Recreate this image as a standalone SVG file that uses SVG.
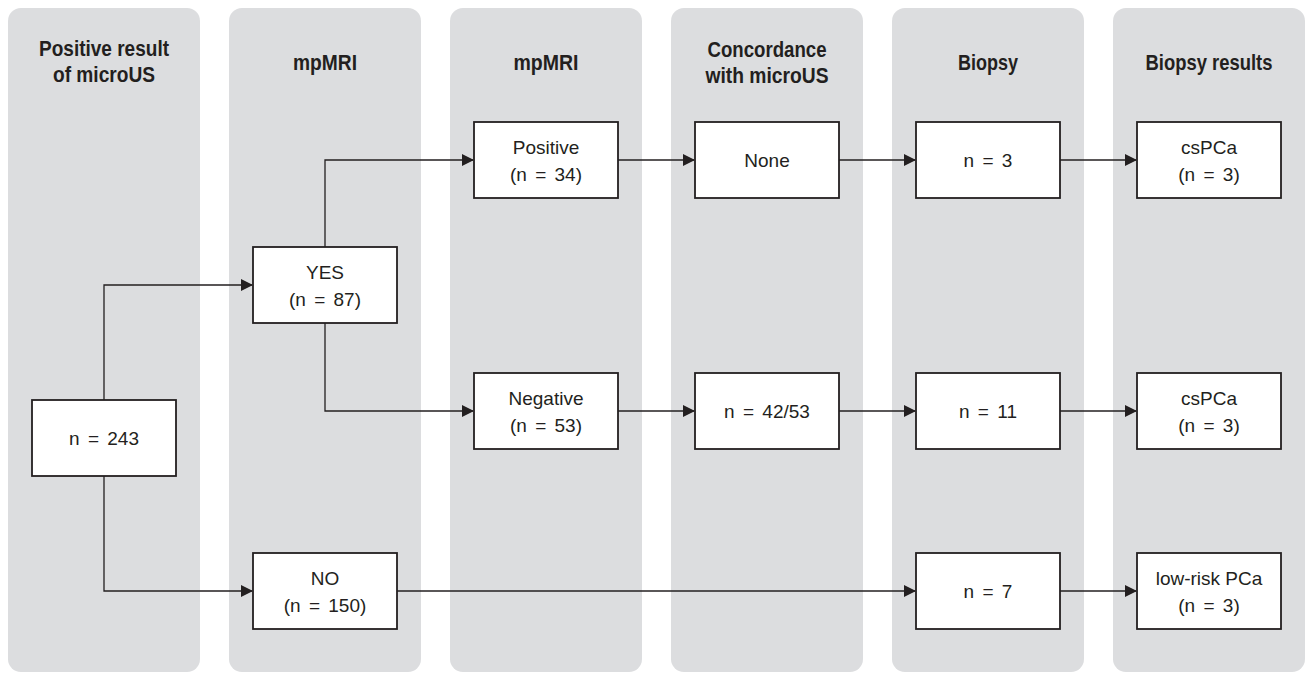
<svg xmlns="http://www.w3.org/2000/svg" width="1306" height="673" viewBox="0 0 1306 673">
<defs>
<style>
.col{fill:#dcdddf;}
.box{fill:#ffffff;stroke:#231f20;stroke-width:1.8;}
.hd{font-family:"Liberation Sans",Arial,sans-serif;font-weight:bold;font-size:22px;fill:#231f20;text-anchor:middle;}
.tx{font-family:"Liberation Sans",Arial,sans-serif;font-size:19px;fill:#231f20;text-anchor:middle;}
.eq{word-spacing:3px;}
.ln{fill:none;stroke:#231f20;stroke-width:1.3;}
</style>
<marker id="arr" viewBox="0 0 12 12" refX="11" refY="6" markerWidth="12" markerHeight="12" markerUnits="userSpaceOnUse" orient="auto">
<path d="M0,0 L12,6 L0,12 Z" fill="#231f20"/>
</marker>
</defs>
<g id="columns">
<rect class="col" x="8" y="8" width="192" height="664" rx="13"/>
<rect class="col" x="229" y="8" width="192" height="664" rx="13"/>
<rect class="col" x="450" y="8" width="192" height="664" rx="13"/>
<rect class="col" x="671" y="8" width="192" height="664" rx="13"/>
<rect class="col" x="892" y="8" width="192" height="664" rx="13"/>
<rect class="col" x="1113" y="8" width="192" height="664" rx="13"/>
</g>
<g id="headers">
<text class="hd" x="104" y="56" textLength="130" lengthAdjust="spacingAndGlyphs">Positive result</text>
<text class="hd" x="104" y="82" textLength="102" lengthAdjust="spacingAndGlyphs">of microUS</text>
<text class="hd" x="325" y="70" textLength="64" lengthAdjust="spacingAndGlyphs">mpMRI</text>
<text class="hd" x="546" y="70" textLength="65" lengthAdjust="spacingAndGlyphs">mpMRI</text>
<text class="hd" x="767" y="57" textLength="119" lengthAdjust="spacingAndGlyphs">Concordance</text>
<text class="hd" x="767" y="83" textLength="123" lengthAdjust="spacingAndGlyphs">with microUS</text>
<text class="hd" x="988" y="70" textLength="60" lengthAdjust="spacingAndGlyphs">Biopsy</text>
<text class="hd" x="1209" y="70" textLength="127" lengthAdjust="spacingAndGlyphs">Biopsy results</text>
</g>
<g id="connectors">
<polyline class="ln" points="104,400 104,285 252,285" marker-end="url(#arr)"/>
<polyline class="ln" points="104,476 104,591 252,591" marker-end="url(#arr)"/>
<polyline class="ln" points="325,247 325,160 473,160" marker-end="url(#arr)"/>
<polyline class="ln" points="325,323 325,411 473,411" marker-end="url(#arr)"/>
<line class="ln" x1="618" y1="160" x2="694" y2="160" marker-end="url(#arr)"/>
<line class="ln" x1="839" y1="160" x2="915" y2="160" marker-end="url(#arr)"/>
<line class="ln" x1="1060" y1="160" x2="1136" y2="160" marker-end="url(#arr)"/>
<line class="ln" x1="618" y1="411" x2="694" y2="411" marker-end="url(#arr)"/>
<line class="ln" x1="839" y1="411" x2="915" y2="411" marker-end="url(#arr)"/>
<line class="ln" x1="1060" y1="411" x2="1136" y2="411" marker-end="url(#arr)"/>
<line class="ln" x1="397" y1="591" x2="915" y2="591" marker-end="url(#arr)"/>
<line class="ln" x1="1060" y1="591" x2="1136" y2="591" marker-end="url(#arr)"/>
</g>
<g id="n243"><rect class="box" x="32" y="400" width="144" height="76"/><text class="tx eq" x="104" y="445">n = 243</text></g>
<g id="yes"><rect class="box" x="253" y="247" width="144" height="76"/><text class="tx" x="325" y="279">YES</text><text class="tx eq" x="325" y="306">(n = 87)</text></g>
<g id="no"><rect class="box" x="253" y="553" width="144" height="76"/><text class="tx" x="325" y="585">NO</text><text class="tx eq" x="325" y="612">(n = 150)</text></g>
<g id="positive"><rect class="box" x="474" y="122" width="144" height="76"/><text class="tx" x="546" y="154">Positive</text><text class="tx eq" x="546" y="181">(n = 34)</text></g>
<g id="negative"><rect class="box" x="474" y="373" width="144" height="76"/><text class="tx" x="546" y="405">Negative</text><text class="tx eq" x="546" y="432">(n = 53)</text></g>
<g id="none"><rect class="box" x="695" y="122" width="144" height="76"/><text class="tx" x="767" y="167">None</text></g>
<g id="n4253"><rect class="box" x="695" y="373" width="144" height="76"/><text class="tx eq" x="767" y="418">n = 42/53</text></g>
<g id="n3"><rect class="box" x="916" y="122" width="144" height="76"/><text class="tx eq" x="988" y="167">n = 3</text></g>
<g id="n11"><rect class="box" x="916" y="373" width="144" height="76"/><text class="tx eq" x="988" y="418">n = 11</text></g>
<g id="n7"><rect class="box" x="916" y="553" width="144" height="76"/><text class="tx eq" x="988" y="598">n = 7</text></g>
<g id="cspca1"><rect class="box" x="1137" y="122" width="144" height="76"/><text class="tx" x="1209" y="154">csPCa</text><text class="tx eq" x="1209" y="181">(n = 3)</text></g>
<g id="cspca2"><rect class="box" x="1137" y="373" width="144" height="76"/><text class="tx" x="1209" y="405">csPCa</text><text class="tx eq" x="1209" y="432">(n = 3)</text></g>
<g id="lowrisk"><rect class="box" x="1137" y="553" width="144" height="76"/><text class="tx" x="1209" y="585">low-risk PCa</text><text class="tx eq" x="1209" y="612">(n = 3)</text></g>
</svg>
